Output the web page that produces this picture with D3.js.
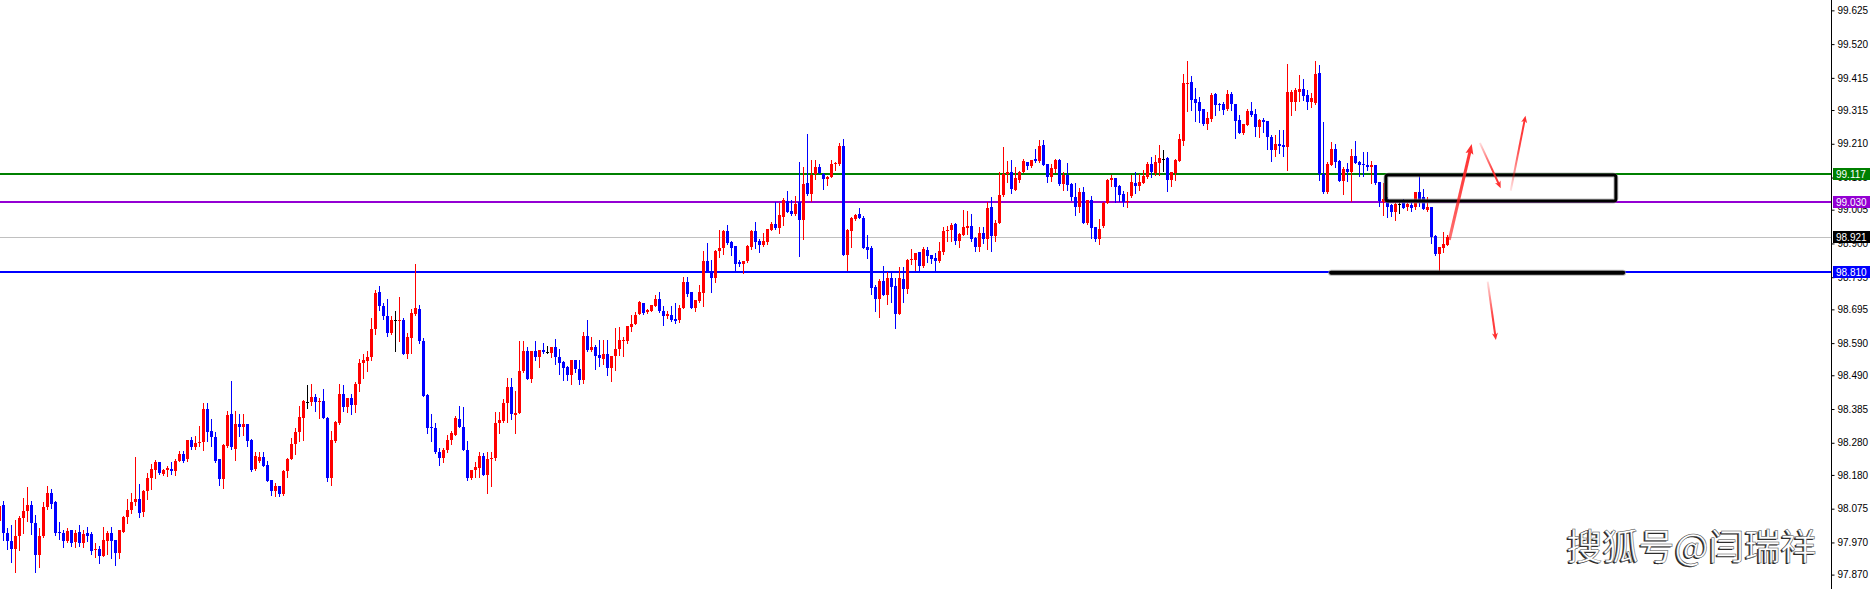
<!DOCTYPE html>
<html><head><meta charset="utf-8">
<script src="https://cdn.jsdelivr.net/npm/d3@7"></script>
<style>html,body{margin:0;padding:0;background:#fff;overflow:hidden}svg{display:block}</style>
</head><body>
<svg id="chart" width="1873" height="589"></svg>
<script>
// ---------- DATA ----------
const openP = [
98.037,98.087,97.999,97.976,97.951,97.989,98.047,98.068,98.087,98.029,
97.932,97.989,98.081,98.125,98.096,98.002,98.000,97.976,98.009,97.971,
98.003,97.969,98.000,97.997,97.948,97.949,97.929,97.975,97.999,97.977,
97.937,98.004,98.050,98.070,98.097,98.106,98.066,98.130,98.169,98.195,
98.219,98.182,98.195,98.199,98.191,98.224,98.245,98.228,98.290,98.268,
98.280,98.283,98.386,98.318,98.299,98.228,98.166,98.271,98.368,98.262,
98.338,98.328,98.338,98.288,98.198,98.222,98.236,98.211,98.164,98.130,
98.146,98.121,98.191,98.228,98.275,98.314,98.356,98.408,98.408,98.423,
98.406,98.411,98.358,98.172,98.287,98.343,98.433,98.390,98.418,98.397,
98.462,98.529,98.533,98.546,98.633,98.748,98.705,98.673,98.621,98.661,
98.661,98.661,98.556,98.606,98.681,98.697,98.598,98.428,98.328,98.327,
98.252,98.234,98.256,98.289,98.305,98.354,98.328,98.259,98.171,98.194,
98.203,98.239,98.181,98.229,98.232,98.342,98.348,98.403,98.452,98.366,
98.374,98.502,98.565,98.479,98.565,98.547,98.568,98.563,98.559,98.577,
98.546,98.532,98.516,98.490,98.537,98.509,98.474,98.612,98.568,98.577,
98.552,98.542,98.556,98.513,98.549,98.571,98.597,98.597,98.640,98.650,
98.679,98.714,98.686,98.691,98.704,98.726,98.691,98.673,98.676,98.666,
98.662,98.700,98.779,98.748,98.698,98.721,98.745,98.844,98.814,98.792,
98.876,98.885,98.938,98.904,98.891,98.841,98.835,98.844,98.889,98.939,
98.907,98.895,98.905,98.941,98.960,98.949,98.983,99.031,99.000,98.992,
99.029,98.973,99.088,99.054,99.117,99.138,99.117,99.100,99.106,99.147,
99.147,99.203,98.863,98.939,98.976,98.991,98.978,98.889,98.885,98.764,
98.726,98.782,98.739,98.792,98.767,98.680,98.789,98.758,98.847,98.847,
98.872,98.829,98.879,98.863,98.855,98.844,98.873,98.939,98.941,98.960,
98.907,98.927,98.948,98.953,98.917,98.890,98.931,98.915,99.012,98.923,
98.963,99.050,99.115,99.121,99.067,99.098,99.121,99.153,99.140,99.162,
99.156,99.206,99.146,99.107,99.132,99.159,99.084,99.113,99.085,99.043,
99.013,99.059,98.963,99.034,98.950,98.913,98.954,99.026,99.096,99.104,
99.079,99.053,99.029,99.048,99.088,99.078,99.088,99.107,99.147,99.119,
99.150,99.163,99.165,99.096,99.119,99.157,99.219,99.397,99.402,99.349,
99.340,99.318,99.271,99.287,99.365,99.335,99.334,99.318,99.365,99.334,
99.284,99.243,99.268,99.312,99.302,99.262,99.284,99.280,99.232,99.191,
99.208,99.206,99.200,99.341,99.340,99.372,99.380,99.362,99.340,99.336,
99.430,99.115,99.060,99.144,99.195,99.156,99.094,99.131,99.121,99.171,
99.153,99.146,99.144,99.138,99.143,99.090,99.030,99.038,99.021,98.998,
99.024,99.032,99.013,99.020,99.013,99.060,99.044,99.005,99.013,98.923,
98.867,98.885,98.896];
const highP = [
98.090,98.100,98.016,98.023,98.041,98.053,98.109,98.143,98.100,98.054,
98.016,98.095,98.146,98.137,98.100,98.033,98.009,98.016,98.010,98.010,
98.025,98.010,98.019,98.001,97.969,97.959,98.019,98.006,98.019,97.977,
98.009,98.051,98.104,98.124,98.237,98.151,98.134,98.187,98.213,98.226,
98.219,98.198,98.208,98.221,98.229,98.254,98.254,98.290,98.299,98.302,
98.331,98.405,98.405,98.354,98.315,98.228,98.276,98.380,98.471,98.380,
98.369,98.369,98.338,98.293,98.250,98.250,98.252,98.222,98.164,98.156,
98.146,98.196,98.234,98.296,98.326,98.395,98.414,98.461,98.464,98.433,
98.420,98.448,98.361,98.316,98.348,98.464,98.461,98.420,98.433,98.468,
98.541,98.557,98.564,98.668,98.756,98.767,98.716,98.726,98.673,98.689,
98.732,98.668,98.620,98.695,98.835,98.707,98.607,98.431,98.368,98.340,
98.265,98.265,98.303,98.318,98.364,98.393,98.390,98.287,98.196,98.220,
98.252,98.247,98.250,98.250,98.375,98.375,98.417,98.480,98.480,98.440,
98.596,98.596,98.577,98.565,98.596,98.568,98.590,98.580,98.577,98.602,
98.571,98.535,98.520,98.537,98.537,98.537,98.624,98.662,98.609,98.584,
98.599,98.599,98.599,98.549,98.637,98.640,98.608,98.643,98.676,98.686,
98.720,98.716,98.697,98.710,98.741,98.748,98.704,98.691,98.704,98.714,
98.707,98.795,98.797,98.748,98.723,98.770,98.876,98.900,98.850,98.879,
98.941,98.941,98.957,98.907,98.891,98.848,98.844,98.895,98.941,98.966,
98.914,98.933,98.946,98.966,99.029,99.026,99.040,99.063,99.035,99.047,
99.153,99.138,99.241,99.160,99.160,99.147,99.120,99.109,99.159,99.154,
99.212,99.225,98.945,98.983,98.991,99.011,98.985,98.926,98.891,98.770,
98.788,98.829,98.811,98.811,98.792,98.827,98.827,98.851,98.883,98.870,
98.872,98.889,98.889,98.863,98.870,98.905,98.951,98.953,98.965,98.963,
98.931,99.003,99.000,98.993,98.920,98.951,98.951,99.029,99.044,98.972,
99.121,99.199,99.157,99.159,99.138,99.125,99.164,99.153,99.159,99.194,
99.221,99.221,99.146,99.147,99.164,99.164,99.121,99.150,99.088,99.088,
99.072,99.076,99.034,99.048,98.950,98.976,99.029,99.099,99.112,99.104,
99.082,99.063,99.060,99.112,99.121,99.115,99.128,99.153,99.168,99.175,
99.206,99.190,99.169,99.121,99.163,99.240,99.427,99.468,99.421,99.383,
99.355,99.318,99.309,99.368,99.368,99.337,99.340,99.377,99.371,99.334,
99.299,99.271,99.318,99.340,99.317,99.287,99.290,99.280,99.237,99.237,
99.252,99.252,99.458,99.377,99.383,99.424,99.412,99.377,99.368,99.468,
99.455,99.277,99.153,99.215,99.209,99.159,99.138,99.149,99.194,99.219,
99.156,99.184,99.184,99.156,99.143,99.090,99.088,99.044,99.024,99.029,
99.029,99.037,99.032,99.029,99.060,99.110,99.068,99.044,99.013,98.926,
98.888,98.935,98.927];
const lowP = [
98.030,97.979,97.949,97.909,97.878,97.946,97.999,98.037,97.997,97.879,
97.895,97.988,98.073,98.078,97.994,97.982,97.957,97.971,97.958,97.957,
97.960,97.957,97.974,97.935,97.926,97.907,97.929,97.934,97.921,97.901,
97.922,98.004,98.029,98.063,98.085,98.048,98.051,98.104,98.135,98.172,
98.182,98.179,98.178,98.182,98.179,98.224,98.220,98.224,98.260,98.261,
98.271,98.259,98.284,98.270,98.221,98.150,98.138,98.266,98.260,98.226,
98.302,98.305,98.269,98.193,98.195,98.219,98.209,98.162,98.118,98.116,
98.116,98.118,98.174,98.228,98.245,98.287,98.290,98.388,98.398,98.379,
98.357,98.358,98.161,98.149,98.282,98.339,98.380,98.377,98.371,98.377,
98.441,98.483,98.503,98.538,98.617,98.693,98.664,98.613,98.617,98.565,
98.597,98.556,98.543,98.559,98.678,98.591,98.424,98.311,98.284,98.247,
98.212,98.220,98.250,98.277,98.305,98.328,98.259,98.165,98.167,98.174,
98.174,98.181,98.125,98.147,98.225,98.310,98.345,98.344,98.353,98.310,
98.372,98.500,98.479,98.468,98.537,98.516,98.559,98.558,98.547,98.526,
98.493,98.474,98.474,98.462,98.500,98.462,98.466,98.565,98.565,98.509,
98.518,98.524,98.490,98.472,98.506,98.552,98.549,98.590,98.627,98.648,
98.681,98.679,98.683,98.689,98.704,98.686,98.645,98.669,98.658,98.652,
98.655,98.700,98.738,98.698,98.689,98.717,98.704,98.811,98.749,98.780,
98.858,98.866,98.897,98.863,98.810,98.830,98.808,98.842,98.883,98.887,
98.873,98.893,98.898,98.941,98.945,98.931,98.957,98.998,98.988,98.988,
98.860,98.914,99.052,99.033,99.101,99.119,99.069,99.081,99.106,99.128,
99.145,98.863,98.816,98.888,98.972,98.978,98.887,98.855,98.742,98.689,
98.671,98.739,98.711,98.717,98.636,98.680,98.717,98.747,98.837,98.818,
98.818,98.827,98.842,98.839,98.816,98.842,98.868,98.908,98.908,98.898,
98.889,98.927,98.930,98.909,98.876,98.878,98.901,98.883,98.878,98.909,
98.963,99.048,99.091,99.057,99.065,99.091,99.121,99.131,99.138,99.154,
99.153,99.143,99.091,99.094,99.121,99.081,99.065,99.067,99.034,98.988,
98.998,98.963,98.961,98.917,98.909,98.898,98.951,99.026,99.079,99.029,
99.032,99.016,99.013,99.045,99.057,99.065,99.088,99.104,99.107,99.112,
99.112,99.126,99.063,99.078,99.096,99.156,99.206,99.312,99.315,99.280,
99.277,99.268,99.256,99.280,99.299,99.315,99.304,99.315,99.315,99.227,
99.243,99.240,99.268,99.297,99.235,99.232,99.247,99.193,99.156,99.172,
99.182,99.172,99.128,99.299,99.315,99.343,99.346,99.318,99.325,99.334,
99.096,99.057,99.057,99.143,99.138,99.094,99.053,99.094,99.032,99.150,
99.110,99.110,99.128,99.088,99.086,99.018,98.990,98.982,98.984,98.972,
98.994,99.009,99.005,99.002,99.007,99.018,99.007,99.002,98.901,98.863,
98.814,98.873,98.896];
const closeP = [
98.084,97.999,97.976,97.951,97.989,98.047,98.068,98.087,98.029,97.932,
97.989,98.081,98.125,98.091,97.999,97.998,97.976,98.006,97.969,97.999,
97.969,97.997,97.991,97.944,97.950,97.929,97.977,97.999,97.973,97.937,
98.009,98.049,98.070,98.097,98.104,98.062,98.130,98.171,98.198,98.219,
98.185,98.196,98.200,98.191,98.224,98.245,98.224,98.290,98.266,98.280,
98.283,98.384,98.315,98.297,98.224,98.168,98.274,98.365,98.266,98.338,
98.328,98.338,98.287,98.196,98.239,98.236,98.209,98.162,98.130,98.146,
98.121,98.193,98.230,98.277,98.314,98.361,98.411,98.408,98.423,98.408,
98.411,98.358,98.172,98.289,98.346,98.433,98.390,98.420,98.397,98.464,
98.529,98.536,98.548,98.635,98.746,98.705,98.673,98.621,98.661,98.661,
98.663,98.556,98.610,98.685,98.699,98.598,98.424,98.327,98.325,98.250,
98.234,98.258,98.289,98.311,98.356,98.328,98.259,98.171,98.196,98.205,
98.239,98.181,98.230,98.234,98.343,98.350,98.403,98.452,98.369,98.374,
98.502,98.565,98.479,98.565,98.547,98.568,98.562,98.563,98.577,98.546,
98.528,98.513,98.490,98.537,98.509,98.474,98.612,98.568,98.577,98.549,
98.544,98.556,98.513,98.549,98.571,98.599,98.599,98.643,98.650,98.676,
98.717,98.683,98.693,98.707,98.726,98.689,98.673,98.679,98.662,98.660,
98.700,98.779,98.742,98.698,98.723,98.748,98.844,98.814,98.793,98.876,
98.885,98.938,98.900,98.885,98.836,98.835,98.844,98.892,98.939,98.904,
98.895,98.907,98.944,98.960,98.947,98.988,99.035,98.998,98.992,99.024,
98.973,99.085,99.054,99.114,99.138,99.119,99.100,99.106,99.147,99.151,
99.203,98.863,98.941,98.978,98.988,98.978,98.887,98.880,98.761,98.726,
98.782,98.739,98.792,98.764,98.680,98.792,98.758,98.847,98.851,98.870,
98.829,98.882,98.861,98.852,98.844,98.876,98.939,98.941,98.957,98.907,
98.929,98.950,98.953,98.915,98.890,98.931,98.915,99.009,98.923,98.963,
99.050,99.115,99.122,99.069,99.104,99.122,99.156,99.140,99.159,99.156,
99.202,99.144,99.107,99.135,99.159,99.084,99.113,99.082,99.043,99.013,
99.059,98.965,99.034,98.948,98.913,98.945,99.026,99.096,99.104,99.077,
99.051,99.029,99.032,99.090,99.078,99.091,99.110,99.147,99.121,99.153,
99.165,99.163,99.096,99.121,99.160,99.224,99.399,99.399,99.346,99.337,
99.312,99.271,99.290,99.362,99.330,99.330,99.315,99.365,99.334,99.280,
99.243,99.271,99.312,99.299,99.262,99.284,99.277,99.232,99.191,99.210,
99.204,99.200,99.371,99.371,99.378,99.380,99.358,99.340,99.352,99.427,
99.115,99.060,99.146,99.195,99.153,99.094,99.131,99.121,99.171,99.150,
99.144,99.143,99.138,99.143,99.088,99.032,99.038,99.013,98.998,99.024,
99.024,99.010,99.024,99.010,99.060,99.032,99.007,99.013,98.920,98.867,
98.888,98.899,98.921];

const axisTicks = [99.625,99.520,99.415,99.315,99.210,99.105,99.005,98.900,98.795,98.695,98.590,98.490,98.385,98.280,98.180,98.075,97.970,97.870];
const axisTickLabels = ["99.625","99.520","99.415","99.315","99.210","99.105","99.005","98.900","98.795","98.695","98.590","98.490","98.385","98.280","98.180","98.075","97.970","97.870"];

const levelPrices = [99.117, 99.030, 98.921, 98.810];
const levelLabels = ["99.117","99.030","98.921","98.810"];

// annotations in (bar index, price) space
const zoneBars = [346.6, 404.1];
const zonePrices = [99.032, 99.113];
const supportBars = [332.9, 405.9];
const supportPrice = 98.809;
const arrowStartBars  = [362.45, 370.1, 377.8, 372.05];
const arrowStartPrice = [98.911, 99.213, 99.064, 98.781];
const arrowEndBars    = [368.05, 375.3, 381.5, 374.1];
const arrowEndPrice   = [99.209, 99.072, 99.297, 98.600];

const watermark = "搜狐号@闫瑞祥";

// ---------- STYLE / LAYOUT ----------
const W = 1873, H = 589, axisX = 1831;
const levelColors = ["#008000", "#9400d3", "#c0c0c0", "#0000ff"];
const levelWidths = [2, 2, 1, 2];
const tagColors = ["#008000", "#9400d3", "#000000", "#0000ff"];
const arrowWidths = [3, 2, 2, 2];
const arrowStartOpacity = [0.55, 0.12, 0.1, 0.12];

const svg = d3.select("#chart");
const x = d3.scaleLinear().domain([0, 362]).range([-0.5, 1447.5]);
const y = d3.scaleLinear().domain([97.80, 99.66]).range([597.1, -0.9]);

// level lines
const gLevels = svg.append("g");
levelPrices.forEach((p, k) => {
  const yy = levelWidths[k] === 1 ? Math.round(y(p)) + 0.5 : Math.round(y(p));
  gLevels.append("line").attr("x1", 0).attr("x2", axisX).attr("y1", yy).attr("y2", yy)
    .attr("stroke", levelColors[k]).attr("stroke-width", levelWidths[k]).attr("shape-rendering", "crispEdges");
});

// candles
const candles = d3.range(closeP.length).map(i => ({i, o: openP[i], h: highP[i], l: lowP[i], c: closeP[i]}));
const col = d => d.c > d.o ? "#ff0000" : (d.c < d.o ? "#0000ff" : "#000000");
const gC = svg.append("g").attr("shape-rendering", "crispEdges");
gC.selectAll("line.wick").data(candles).join("line").attr("class", "wick")
  .attr("x1", d => x(d.i)).attr("x2", d => x(d.i))
  .attr("y1", d => Math.round(y(Math.max(d.h, d.o, d.c))))
  .attr("y2", d => Math.round(y(Math.min(d.l, d.o, d.c))) + 1)
  .attr("stroke", col).attr("stroke-width", 1);
gC.selectAll("rect.body").data(candles).join("rect").attr("class", "body")
  .attr("x", d => x(d.i) - 1.5).attr("width", 3)
  .attr("y", d => Math.round(y(Math.max(d.o, d.c))))
  .attr("height", d => Math.max(1, Math.round(y(Math.min(d.o, d.c))) - Math.round(y(Math.max(d.o, d.c)))))
  .attr("fill", col);

// zone rectangle
const zx0 = x(zoneBars[0]), zx1 = x(zoneBars[1]), zy0 = y(zonePrices[1]), zy1 = y(zonePrices[0]);
svg.append("rect").attr("x", zx0).attr("y", zy0).attr("width", zx1 - zx0).attr("height", zy1 - zy0)
  .attr("rx", 3).attr("fill", "none").attr("stroke", "#9a9a9a").attr("stroke-width", 5).attr("opacity", 0.6);
svg.append("rect").attr("x", zx0).attr("y", zy0).attr("width", zx1 - zx0).attr("height", zy1 - zy0)
  .attr("rx", 2).attr("fill", "none").attr("stroke", "#000").attr("stroke-width", 3);

// support line
svg.append("line").attr("x1", x(supportBars[0])).attr("x2", x(supportBars[1]))
  .attr("y1", y(supportPrice)).attr("y2", y(supportPrice))
  .attr("stroke", "#8a8a8a").attr("stroke-width", 6).attr("stroke-linecap", "round").attr("opacity", 0.6);
svg.append("line").attr("x1", x(supportBars[0])).attr("x2", x(supportBars[1]))
  .attr("y1", y(supportPrice)).attr("y2", y(supportPrice))
  .attr("stroke", "#000").attr("stroke-width", 4).attr("stroke-linecap", "round");

// arrows
const defs = svg.append("defs");
arrowStartBars.forEach((b, k) => {
  const x1 = x(b), y1 = y(arrowStartPrice[k]), x2 = x(arrowEndBars[k]), y2 = y(arrowEndPrice[k]);
  const gid = "ag" + k;
  const grad = defs.append("linearGradient").attr("id", gid).attr("gradientUnits", "userSpaceOnUse")
    .attr("x1", x1).attr("y1", y1).attr("x2", x2).attr("y2", y2);
  grad.append("stop").attr("offset", 0).attr("stop-color", "#ff0000").attr("stop-opacity", arrowStartOpacity[k]);
  grad.append("stop").attr("offset", 0.6).attr("stop-color", "#ff2020").attr("stop-opacity", 0.85);
  grad.append("stop").attr("offset", 1).attr("stop-color", "#ff3030").attr("stop-opacity", 1);
  const dx = x2 - x1, dy = y2 - y1, len = Math.hypot(dx, dy), ux = dx / len, uy = dy / len;
  const hl = arrowWidths[k] === 3 ? 10 : 7, hw = arrowWidths[k] === 3 ? 4 : 3;
  svg.append("line").attr("x1", x1).attr("y1", y1).attr("x2", x2 - ux * hl * 0.6).attr("y2", y2 - uy * hl * 0.6)
    .attr("stroke", `url(#${gid})`).attr("stroke-width", arrowWidths[k]);
  const bx = x2 - ux * hl, by = y2 - uy * hl;
  svg.append("path").attr("d", `M${x2},${y2}L${bx - uy * hw},${by + ux * hw}L${bx + ux * 2},${by + uy * 2}L${bx + uy * hw},${by - ux * hw}Z`)
    .attr("fill", "#ff3030");
});

// right axis
svg.append("line").attr("x1", axisX + 0.5).attr("x2", axisX + 0.5).attr("y1", 0).attr("y2", H)
  .attr("stroke", "#000").attr("stroke-width", 1);
const axis = d3.axisRight(y).tickValues(axisTicks).tickFormat((d, i) => axisTickLabels[i]).tickSize(3).tickPadding(3);
const gAxis = svg.append("g").attr("transform", `translate(${axisX + 0.5},0)`).call(axis);
gAxis.select(".domain").remove();
gAxis.selectAll("line").attr("stroke", "#000");
gAxis.selectAll("text").attr("fill", "#000").style("font-family", "Liberation Sans, Arial, sans-serif").style("font-size", "10px");

// price tags
levelPrices.forEach((p, k) => {
  const yy = Math.round(y(p));
  svg.append("rect").attr("x", axisX + 2).attr("y", yy - 6).attr("width", 37).attr("height", 12).attr("fill", tagColors[k]);
  svg.append("text").attr("x", axisX + 5).attr("y", yy).attr("dy", "0.36em").attr("fill", "#fff")
    .style("font-family", "Liberation Sans, Arial, sans-serif").style("font-size", "10px").text(levelLabels[k]);
});

// watermark
const wm = svg.append("g").style("font-family", "'Noto Sans CJK SC', sans-serif").style("font-size", "36px");
wm.append("text").attr("x", 1565).attr("y", 561).attr("fill", "#000").attr("opacity", 0.85).text(watermark);
wm.append("text").attr("x", 1566.5).attr("y", 560).attr("fill", "#fff").attr("stroke", "#444").attr("stroke-width", 0.5).text(watermark);
</script>
</body></html>
